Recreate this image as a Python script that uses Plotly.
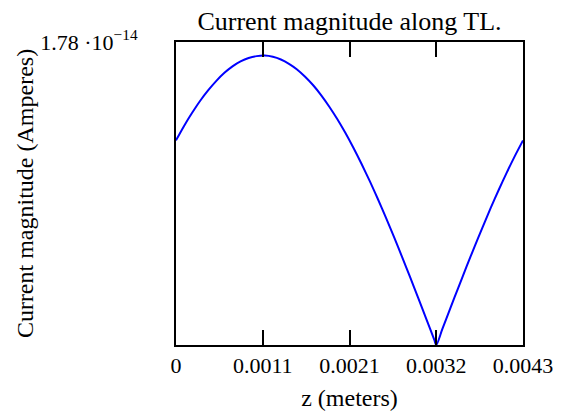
import plotly.graph_objects as go

# z positions (meters) and current magnitude (A)
z_m = [0.0000, 0.0001, 0.0002, 0.0003, 0.0004, 0.0005, 0.0006, 0.0007, 0.0008, 0.0009,
       0.0010, 0.0011, 0.0012, 0.0013, 0.0014, 0.0015, 0.0016, 0.0017, 0.0018, 0.0019,
       0.0020, 0.0021, 0.0022, 0.0023, 0.0024, 0.0025, 0.0026, 0.0027, 0.0028, 0.0029,
       0.0030, 0.0031, 0.0032, 0.003225, 0.0033, 0.0034, 0.0035, 0.0036, 0.0037, 0.0038,
       0.0039, 0.0040, 0.0041, 0.0042, 0.0043]
i_amp_e14 = [1.202, 1.287, 1.364, 1.435, 1.497, 1.552, 1.599, 1.637, 1.666, 1.686,
             1.697, 1.700, 1.693, 1.677, 1.652, 1.619, 1.576, 1.526, 1.467, 1.400,
             1.326, 1.245, 1.157, 1.063, 0.964, 0.859, 0.750, 0.636, 0.519, 0.400,
             0.278, 0.155, 0.031, 0.000, 0.093, 0.217, 0.339, 0.460, 0.578, 0.693,
             0.805, 0.912, 1.014, 1.111, 1.202]
i_amp = [v * 1e-14 for v in i_amp_e14]

x_tickvals = [0.0, 0.001075, 0.00215, 0.003225, 0.0043]
x_ticktext = ["0", "0.0011", "0.0021", "0.0032", "0.0043"]
y_max = 1.78e-14
y_ticktext = ["1.78 \u00b710<sup>\u221214</sup>"]

FONT = "Liberation Serif, Times New Roman, serif"

fig = go.Figure()
fig.add_trace(go.Scatter(x=z_m, y=i_amp, mode="lines",
                         line=dict(color="#0000FF", width=2, shape="spline", smoothing=0.8),
                         showlegend=False, hoverinfo="skip"))

fig.update_layout(
    width=558, height=406,
    margin=dict(l=168, r=43, t=34, b=69, autoexpand=False),
    paper_bgcolor="white", plot_bgcolor="white",
    font=dict(family=FONT, size=22, color="black"),
    title=dict(text="Current magnitude along TL.", x=0.5, xref="paper",
               y=1 - 13 / 406, yref="container", yanchor="middle", xanchor="center",
               font=dict(family=FONT, size=26, color="black")),
    xaxis=dict(range=[0, 0.0043], tickmode="array", tickvals=x_tickvals,
               ticktext=x_ticktext, ticks="inside", ticklen=15, tickwidth=2,
               tickcolor="black", showline=True, linecolor="black", linewidth=2,
               mirror="ticks", showgrid=False, zeroline=False, automargin=False,
               tickfont=dict(family=FONT, size=22),
               title=dict(text="z (meters)", standoff=12,
                          font=dict(family=FONT, size=24))),
    yaxis=dict(range=[0, y_max], tickmode="array", tickvals=[y_max],
               ticktext=y_ticktext, ticks="inside", ticklen=15, tickwidth=3,
               tickcolor="black", showline=True, linecolor="black", linewidth=2,
               mirror="ticks", showgrid=False, zeroline=False, automargin=False,
               tickfont=dict(family=FONT, size=22),
               ticklabelstandoff=32,
               title=dict(text="Current magnitude (Amperes)", standoff=0,
                          font=dict(family=FONT, size=24))),
)

fig.write_html("out.html")
